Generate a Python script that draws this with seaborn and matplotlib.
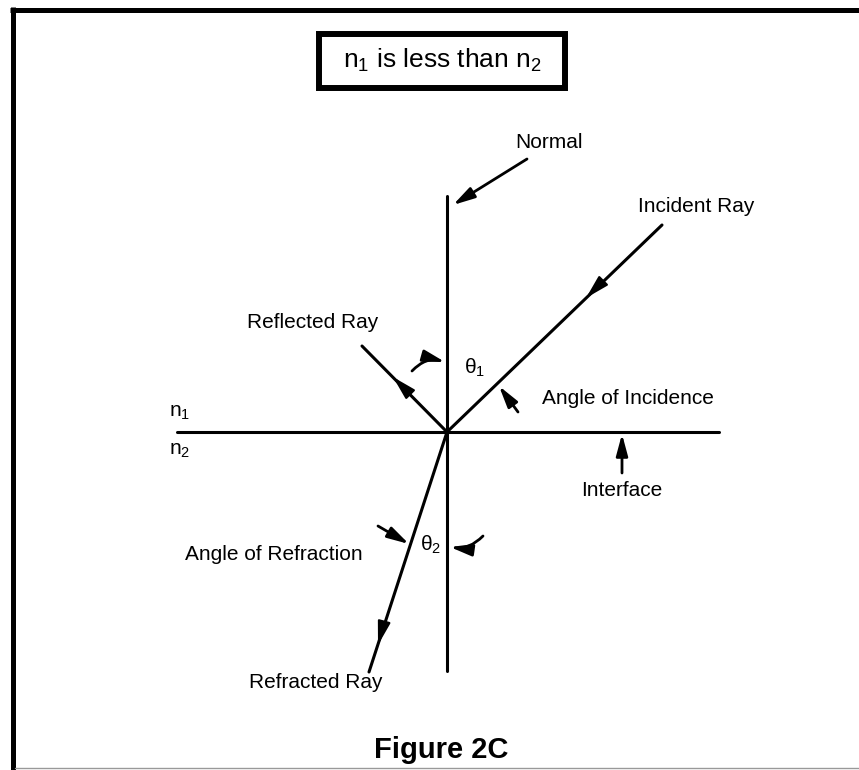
import matplotlib
matplotlib.use("Agg")
import matplotlib.pyplot as plt
from matplotlib.patches import Rectangle
import seaborn as sns
import pandas as pd

# line segments of the diagram (pixel coords, y down)
seg_names = ["normal", "interface", "incident", "reflected", "refracted"]
seg_x0 = [447, 177, 662, 447, 447]
seg_y0 = [196, 432, 225, 432, 432]
seg_x1 = [447, 719, 447, 362, 369]
seg_y1 = [671, 432, 432, 346, 672]

# arrowheads sitting on the rays: (tail, tip)
ray_arrow_from = [(600, 284), (407, 391), (383, 626)]
ray_arrow_to = [(586, 298), (393, 377), (378, 645)]

# pointer arrows: (tail, tip, curvature)
ptr_from = [(527, 159), (518, 412), (622, 473), (412, 371), (378, 526), (483, 536)]
ptr_to = [(453, 205), (499, 386), (622, 434), (445, 362), (409, 544), (450, 547)]
ptr_rad = [0.0, 0.0, 0.0, -0.3, 0.0, -0.25]

# labels
lbl_text = ["Normal", "Incident Ray", "Reflected Ray", r"$\theta_1$",
            "Angle of Incidence", "Interface", r"n$_1$", r"n$_2$",
            r"$\theta_2$", "Angle of Refraction", "Refracted Ray"]
lbl_x = [549, 696, 313, 464, 542, 622, 169, 169, 420, 274, 316]
lbl_y = [142, 206, 323, 368, 399, 491, 413, 450, 545, 554, 683]
lbl_ha = ["center", "center", "center", "left", "left", "center", "left", "left",
          "left", "center", "center"]

title_text = r"n$_1$ is less than n$_2$"
caption = "Figure 2C"

sns.set_style("white")
plt.rcParams["font.family"] = ["Liberation Sans", "DejaVu Sans"]
plt.rcParams["text.color"] = "black"
plt.rcParams["mathtext.fontset"] = "custom"
plt.rcParams["mathtext.rm"] = "Liberation Sans"
plt.rcParams["mathtext.it"] = "Liberation Sans"
plt.rcParams["mathtext.default"] = "regular"

rows = []
for n, a, b, c, d in zip(seg_names, seg_x0, seg_y0, seg_x1, seg_y1):
    rows.append({"seg": n, "x": a, "y": b})
    rows.append({"seg": n, "x": c, "y": d})
df = pd.DataFrame(rows)

fig = plt.figure(figsize=(8.59, 7.70), dpi=100)
ax = fig.add_axes([0, 0, 1, 1])
sns.lineplot(data=df, x="x", y="y", units="seg", estimator=None, sort=False,
             color="black", linewidth=2.2, ax=ax, legend=False)

head = "-|>,head_length=1.3,head_width=0.35"

for p0, p1 in zip(ray_arrow_from, ray_arrow_to):
    ax.annotate("", xy=p1, xytext=p0,
                arrowprops=dict(arrowstyle=head, color="black", lw=1.6,
                                shrinkA=0, shrinkB=0, mutation_scale=11))

for p0, p1, r in zip(ptr_from, ptr_to, ptr_rad):
    ax.annotate("", xy=p1, xytext=p0,
                arrowprops=dict(arrowstyle=head, color="black", lw=2.0,
                                shrinkA=0, shrinkB=0, mutation_scale=10,
                                connectionstyle=f"arc3,rad={r}"))

for t, x, y, ha in zip(lbl_text, lbl_x, lbl_y, lbl_ha):
    ax.text(x, y, t, ha=ha, va="center", fontsize=15, color="black")

# title box
ax.add_patch(Rectangle((319, 34), 246, 54, fill=False, edgecolor="black", lw=4.3))
ax.text(442, 60, title_text, ha="center", va="center", fontsize=19)
ax.text(441, 750, caption, ha="center", va="center", fontsize=21, fontweight="bold")

# page frame
ax.plot([12.5, 12.5], [7, 770], color="black", lw=3.6, solid_capstyle="butt")
ax.plot([10, 859], [9.5, 9.5], color="black", lw=3.6, solid_capstyle="butt")
ax.plot([15, 859], [767.5, 767.5], color="#999999", lw=1.0)

ax.set_xlim(0, 859)
ax.set_ylim(770, 0)
ax.axis("off")

fig.savefig("out.png", dpi=100)
plt.close(fig)
